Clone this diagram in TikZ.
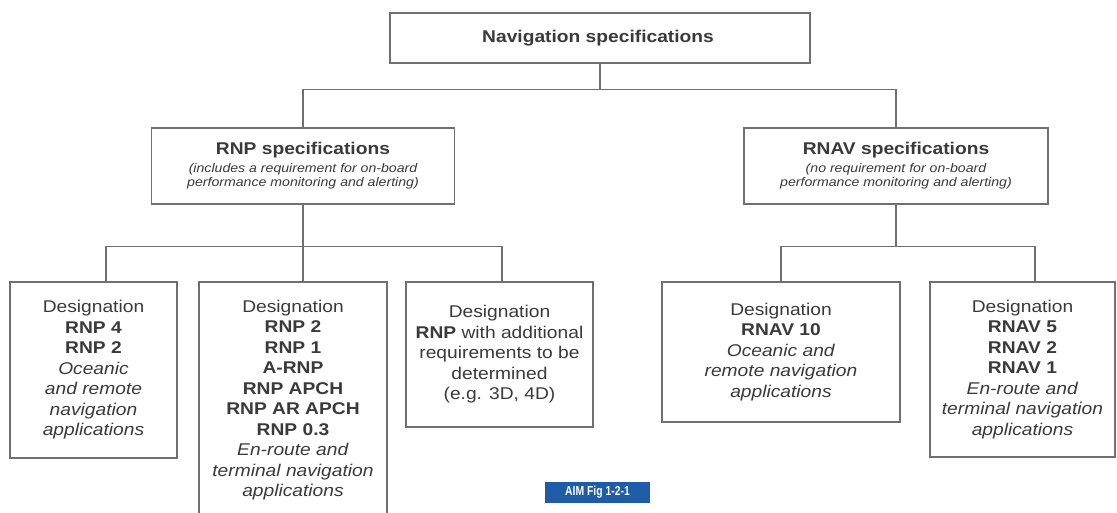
\documentclass[tikz,border=0pt]{standalone}
\usepackage{fontspec}
\setmainfont{Liberation Sans}[FakeStretch=1.13]
\newfontfamily\figtagfont{Liberation Sans}[FakeStretch=0.8]
\usepackage{xcolor}
\definecolor{boxline}{HTML}{707070}
\definecolor{boxtext}{HTML}{3A3A3A}
\definecolor{aimblue}{HTML}{1F5CA8}

\begin{document}
\begin{tikzpicture}[x=1pt, y=-1pt,
    specbox/.style={rectangle, draw=boxline, line width=1.3pt, text=boxtext, align=center, inner sep=0pt,
      font=\fontsize{12.5}{14}\selectfont},
    desigbox/.style={rectangle, draw=boxline, line width=1.3pt, text=boxtext, align=center, inner sep=0pt,
      font=\fontsize{17}{20.5}\selectfont},
    link/.style={draw=boxline, line width=1.3pt}]
  \useasboundingbox[fill=white] (0,0) rectangle (1117,512);
  \clip (0,0) rectangle (1117,512);

  % top level
  \node (nav) [specbox, minimum width=420pt, minimum height=50pt] at (600,38) {
    {\fontsize{17}{20}\selectfont\bfseries Navigation specifications}
  };

  % second level
  \node (rnp) [specbox, minimum width=303pt, minimum height=76pt] at (303,166) {
    {\fontsize{17}{20}\selectfont\bfseries RNP specifications}\\[4pt]
    \itshape (includes a requirement for on-board\\
    \itshape performance monitoring and alerting)
  };
  \node (rnav) [specbox, minimum width=304pt, minimum height=76pt] at (896,166) {
    {\fontsize{17}{20}\selectfont\bfseries RNAV specifications}\\[4pt]
    \itshape (no requirement for on-board\\
    \itshape performance monitoring and alerting)
  };

  % designations
  \node (rnpocean) [desigbox, minimum width=167pt, minimum height=176pt] at (93.5,370) {
    Designation\\
    \textbf{RNP 4}\\
    \textbf{RNP 2}\\
    \textit{Oceanic}\\
    \textit{and remote}\\
    \textit{navigation}\\
    \textit{applications}
  };
  \node (rnpterm) [desigbox, minimum width=188pt, minimum height=236pt] at (293,400) {
    Designation\\
    \textbf{RNP 2}\\
    \textbf{RNP 1}\\
    \textbf{A-RNP}\\
    \textbf{RNP APCH}\\
    \textbf{RNP AR APCH}\\
    \textbf{RNP 0.3}\\
    \textit{En-route and}\\
    \textit{terminal navigation}\\
    \textit{applications}
  };
  \node (rnpfuture) [desigbox, minimum width=187pt, minimum height=145pt] at (499.5,354.5) {
    Designation\\
    \textbf{RNP} with additional\\
    requirements to be\\
    determined\\
    (e.g. 3D, 4D)
  };
  \node (rnavocean) [desigbox, minimum width=238pt, minimum height=140pt] at (781,352) {
    Designation\\
    \textbf{RNAV 10}\\
    \textit{Oceanic and}\\
    \textit{remote navigation}\\
    \textit{applications}
  };
  \node (rnavterm) [desigbox, minimum width=185pt, minimum height=175pt] at (1022.5,369.5) {
    Designation\\
    \textbf{RNAV 5}\\
    \textbf{RNAV 2}\\
    \textbf{RNAV 1}\\
    \textit{En-route and}\\
    \textit{terminal navigation}\\
    \textit{applications}
  };

  \node (figtag) [rectangle, fill=aimblue, text=white, minimum width=105pt, minimum height=21pt, inner sep=0pt]
    at (597.5,492.5) {\figtagfont\fontsize{13}{14}\selectfont\bfseries AIM Fig 1-2-1};

  % connectors
  \draw[link] (nav.south) -- ++(0,26) coordinate (navjoin);
  \draw[link] (navjoin) -| (rnp.north);
  \draw[link] (navjoin) -| (rnav.north);

  \draw[link] (rnp.south) -- ++(0,42) coordinate (rnpjoin);
  \draw[link] (rnpjoin) -| ([xshift=12.5pt]rnpocean.north);
  \draw[link] (rnpjoin) -| ([xshift=10pt]rnpterm.north);
  \draw[link] (rnpjoin) -| ([xshift=2.5pt]rnpfuture.north);

  \draw[link] (rnav.south) -- ++(0,42) coordinate (rnavjoin);
  \draw[link] (rnavjoin) -| (rnavocean.north);
  \draw[link] (rnavjoin) -| ([xshift=12.5pt]rnavterm.north);
\end{tikzpicture}
\end{document}
